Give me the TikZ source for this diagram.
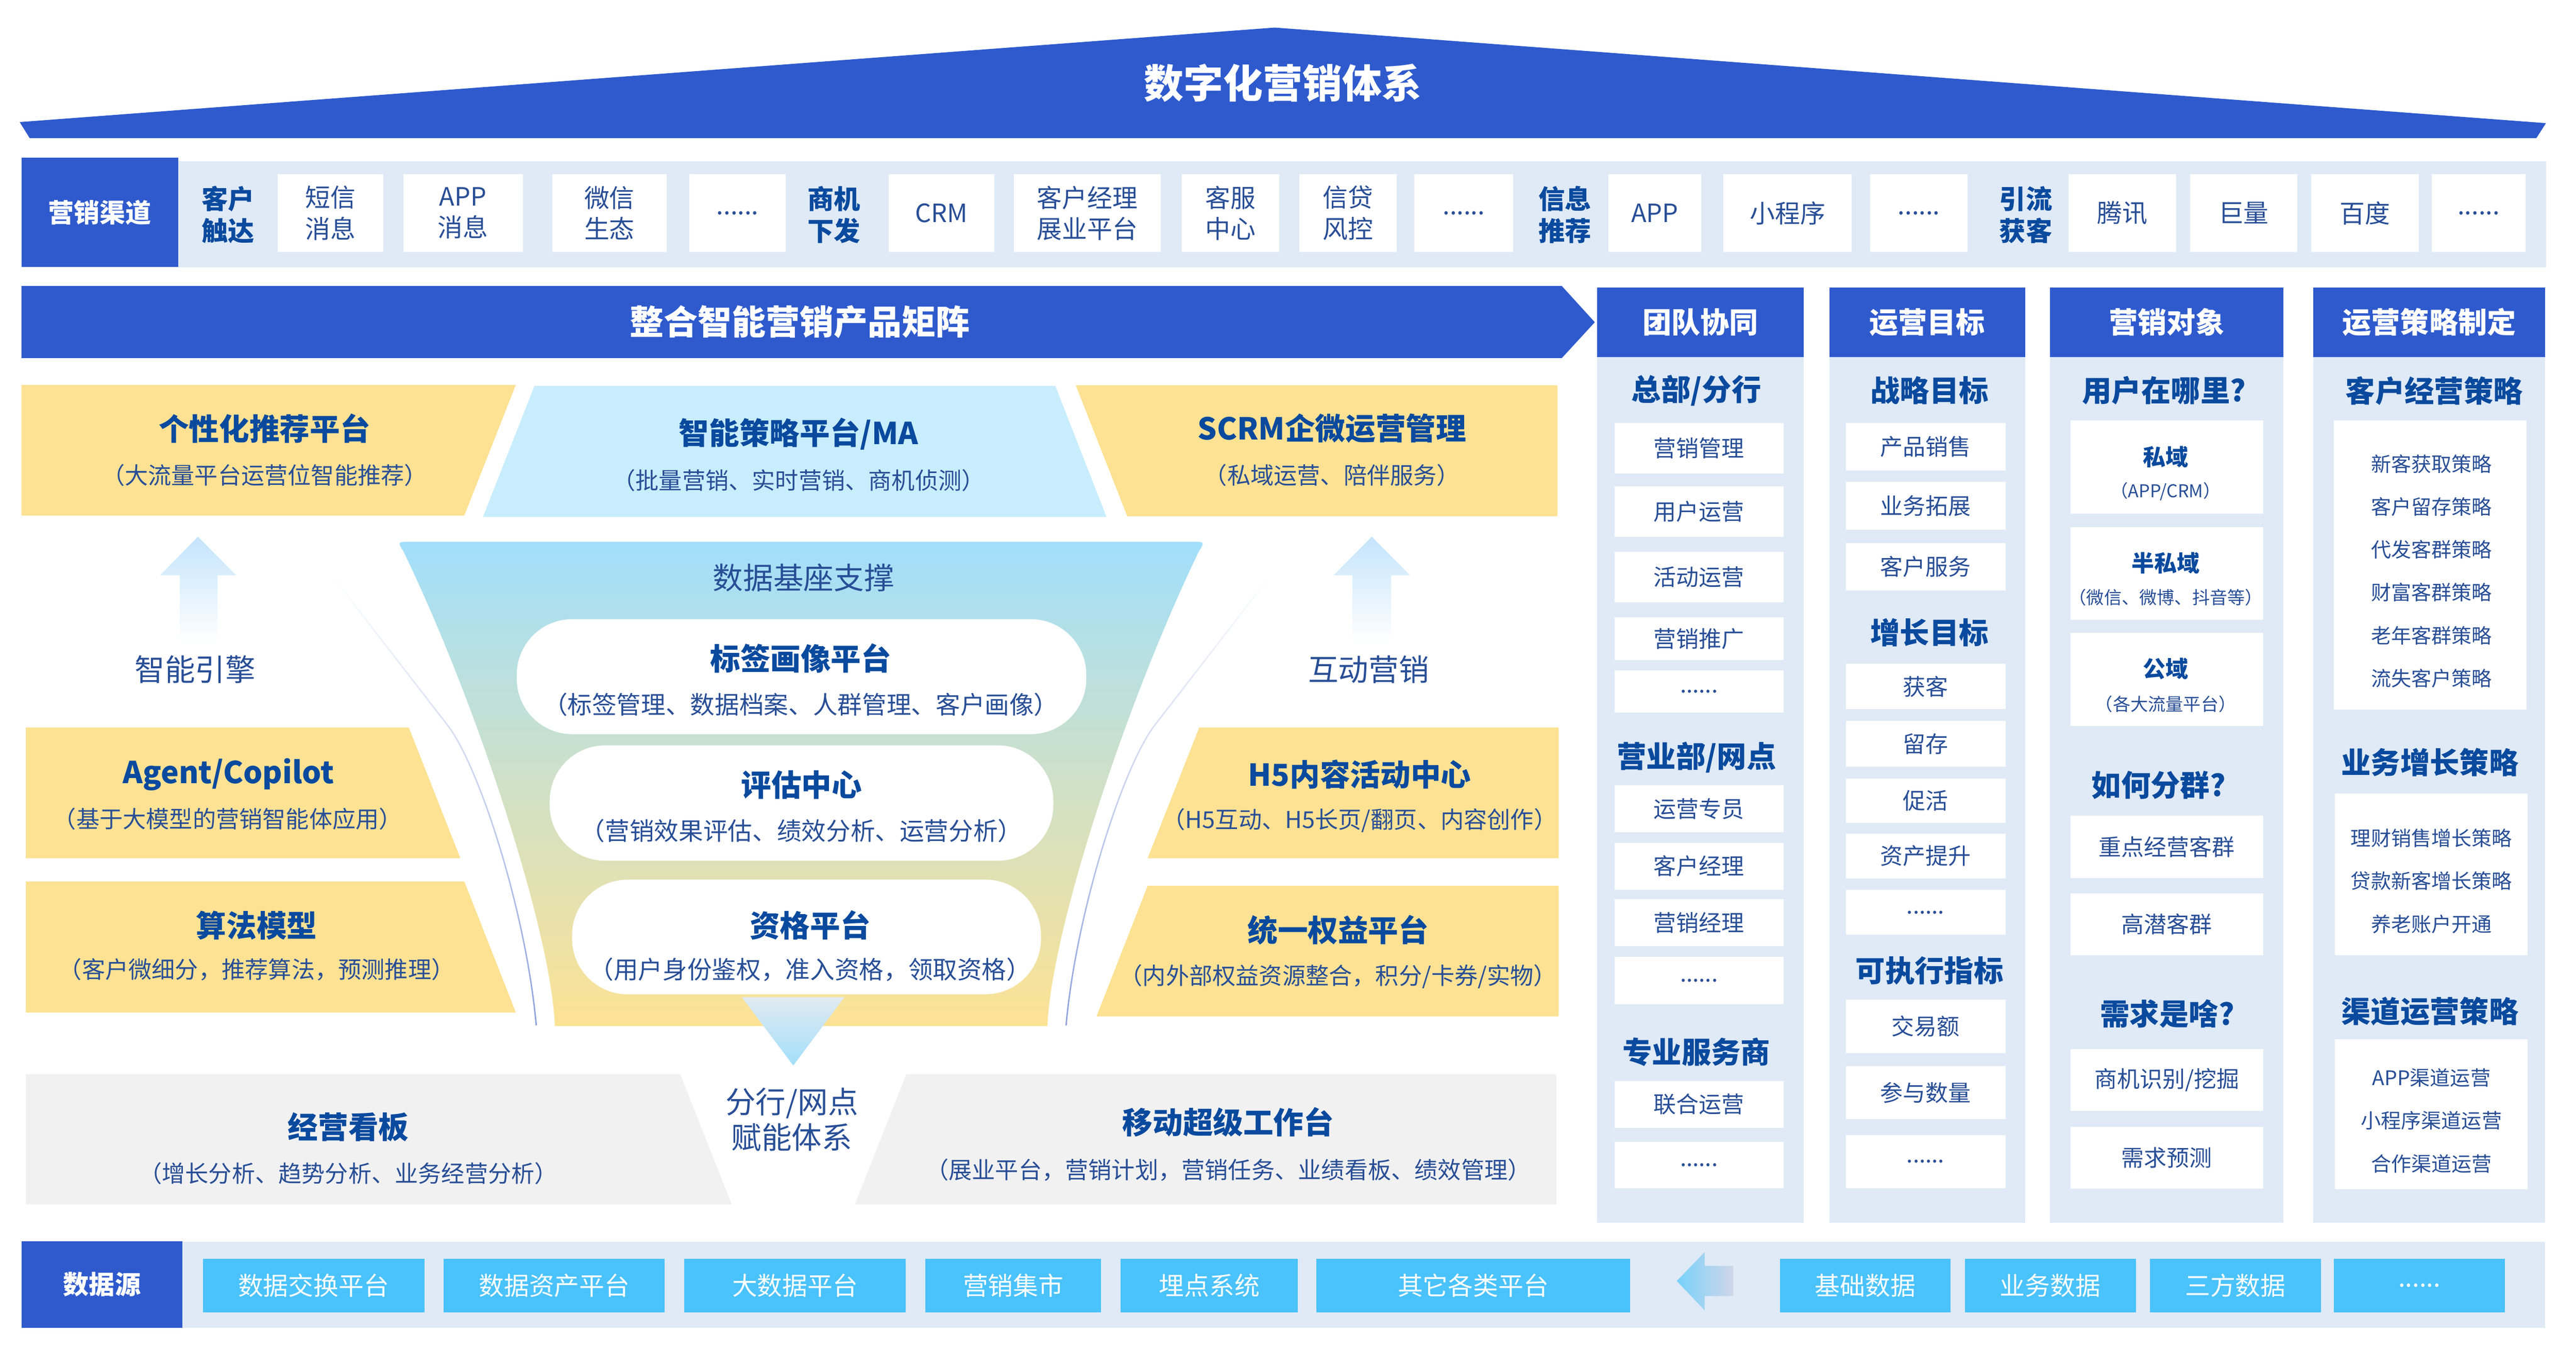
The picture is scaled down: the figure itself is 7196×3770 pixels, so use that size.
\documentclass[tikz,border=0pt]{standalone}
\usepackage{fontspec}
\setmainfont{Noto Sans CJK SC}
\usetikzlibrary{fadings}

\definecolor{mainblue}{RGB}{46,90,205}
\definecolor{bandblue}{RGB}{223,234,246}
\definecolor{hdblue}{RGB}{10,74,158}
\definecolor{txtblue}{RGB}{40,78,150}
\definecolor{boxyellow}{RGB}{253,226,148}
\definecolor{skyblue}{RGB}{200,237,253}
\definecolor{funnelblue}{RGB}{162,223,251}
\definecolor{funnelmid}{RGB}{226,234,240}
\definecolor{boxgray}{RGB}{241,241,241}
\definecolor{srcblue}{RGB}{74,194,251}
\definecolor{curveblue}{RGB}{140,160,220}
\definecolor{arrowblue}{RGB}{196,228,251}
\definecolor{arrowgray}{RGB}{208,214,232}
\newcommand{\moredots}{......}

\begin{document}
\begin{tikzpicture}[x=0.01cm, y=-0.01cm,
  cell/.style={fill=white, text=txtblue, inner sep=0pt, align=center, font=\fontsize{18}{22}\selectfont},
  chcell/.style={cell, minimum height=2.18cm, font=\fontsize{20}{24.7}\selectfont},
  chgroup/.style={text=hdblue, align=center, font=\bfseries\fontsize{21}{25.3}\selectfont},
  colbar/.style={fill=mainblue, text=white, inner sep=0pt, minimum height=1.95cm, font=\bfseries\fontsize{23}{28}\selectfont},
  colhead/.style={text=hdblue, font=\bfseries\fontsize{23.5}{28}\selectfont},
  ptitle/.style={text=hdblue, font=\bfseries\fontsize{24}{29}\selectfont},
  psub/.style={text=txtblue, font=\fontsize{18.5}{22}\selectfont},
  pod/.style={fill=white, rounded corners=1.55cm, inner sep=0pt},
  srccell/.style={fill=srcblue, text=white, inner sep=0pt, minimum height=1.49cm, font=\fontsize{20}{24}\selectfont},
  side/.style={text=txtblue, align=center, font=\fontsize{24}{29}\selectfont},
  guide/.style={curveblue, line width=1.1pt, path fading=north}
]
\useasboundingbox (0,0) rectangle (7196,3770);

% Roof
\fill[mainblue] (55,341) -- (3561,77) -- (7112,344) -- (7085,386) -- (83,386) -- cycle;
\node[text=white, font=\bfseries\fontsize{31.5}{36}\selectfont] (roof) at (3583,232) {数字化营销体系};

% Channels
\fill[bandblue] (60,450) rectangle (7112,747);
\node[fill=mainblue, text=white, minimum width=4.38cm, minimum height=3.04cm, inner sep=0pt,
  font=\bfseries\fontsize{20.5}{24}\selectfont] (chan) at (279,593) {营销渠道};
\foreach \a/\t in {637/{客户\\触达}, 2330/{商机\\下发}, 4372/{信息\\推荐}, 5659/{引流\\获客}}{
  \node[chgroup] (grp-\a) at (\a,600) {\t};
}
\foreach \a/\b/\t in {776/1070/{短信\\消息}, 1127/1460/{APP\\消息}, 1543/1862/{微信\\生态}, 1926/2195/\moredots,
  2482/2778/CRM, 2833/3242/{客户经理\\展业平台}, 3301/3574/{客服\\中心}, 3630/3901/{信贷\\风控},
  3951/4227/\moredots, 4493/4752/APP, 4814/5173/小程序, 5225/5496/\moredots,
  5779/6079/腾讯, 6118/6417/巨量, 6456/6757/百度, 6793/7055/\moredots}{
  \pgfmathsetmacro\w{(\b-\a)/100}
  \node[chcell, minimum width=\w cm] (ch-\a) at ({(\a+\b)/2},595) {\t};
}

% Product matrix banner
\fill[mainblue] (60,799) -- (4363,799) -- (4455,900) -- (4363,1000) -- (60,1000) -- cycle;
\node[text=white, font=\bfseries\fontsize{27}{32}\selectfont] (matrix) at (2234,899) {整合智能营销产品矩阵};

% Top row
\fill[boxyellow] (60,1075) -- (1441,1075) -- (1297,1440) -- (60,1440) -- cycle;
\fill[skyblue] (1493,1078) -- (2948,1078) -- (3091,1444) -- (1349,1444) -- cycle;
\fill[boxyellow] (3005,1076) -- (4351,1076) -- (4351,1442) -- (3149,1442) -- cycle;
\node[ptitle] (rec) at (739,1197) {个性化推荐平台};
\node[psub] (rec-s) at (739,1327) {（大流量平台运营位智能推荐）};
\node[ptitle] (ma) at (2231,1212) {智能策略平台/MA};
\node[psub] (ma-s) at (2231,1342) {（批量营销、实时营销、商机侦测）};
\node[ptitle] (scrm) at (3721,1197) {SCRM企微运营管理};
\node[psub] (scrm-s) at (3721,1327) {（私域运营、陪伴服务）};

% Funnel
\shade[top color=funnelblue, middle color=funnelmid, bottom color=boxyellow]
  (1127,1540) .. controls (1110,1513) .. (1150,1513) -- (3326,1513) .. controls (3366,1513) .. (3349,1540)
  .. controls (3146,1960) and (2936,2600) .. (2926,2866)
  -- (1550,2866) .. controls (1540,2600) and (1330,1960) .. (1127,1540) -- cycle;
\shade[top color=funnelmid, bottom color=funnelblue] (2072,2785) -- (2359,2785) -- (2216,2976) -- cycle;
\node[side] (base) at (2245,1613) {数据基座支撑};
\node[pod, minimum width=15.9cm, minimum height=3.21cm] (tag) at (2239,1890) {};
\node[pod, minimum width=14.06cm, minimum height=3.22cm] (eval) at (2239,2243) {};
\node[pod, minimum width=13.09cm, minimum height=3.2cm] (qual) at (2253,2617) {};
\node[ptitle] (tag-t) at (2237,1838) {标签画像平台};
\node[psub, font=\fontsize{19.5}{23}\selectfont] (tag-s) at (2237,1968) {（标签管理、数据档案、人群管理、客户画像）};
\node[ptitle] (eval-t) at (2239,2192) {评估中心};
\node[psub, font=\fontsize{19.5}{23}\selectfont] (eval-s) at (2239,2321) {（营销效果评估、绩效分析、运营分析）};
\node[ptitle] (qual-t) at (2263,2584) {资格平台};
\node[psub, font=\fontsize{19.5}{23}\selectfont] (qual-s) at (2263,2708) {（用户身份鉴权，准入资格，领取资格）};

% Side curves and arrows
\draw[guide] (922,1601) -- (1250,2025) .. controls (1340,2141) and (1470,2550) .. (1498,2864);
\draw[guide] (3554,1601) -- (3226,2025) .. controls (3136,2141) and (3006,2550) .. (2978,2864);
\shade[top color=arrowblue, bottom color=white] (553,1499) -- (660,1607) -- (608,1607) -- (608,1794)
  -- (502,1794) -- (502,1607) -- (447,1607) -- cycle;
\shade[top color=arrowblue, bottom color=white] (3832,1499) -- (3939,1607) -- (3886,1607) -- (3886,1794)
  -- (3778,1794) -- (3778,1607) -- (3725,1607) -- cycle;
\node[side] (engine) at (545,1870) {智能引擎};
\node[side] (interact) at (3823,1870) {互动营销};

% Side boxes
\fill[boxyellow] (72,2032) -- (1142,2032) -- (1286,2397) -- (72,2397) -- cycle;
\fill[boxyellow] (72,2462) -- (1297,2462) -- (1441,2828) -- (72,2828) -- cycle;
\fill[boxyellow] (3350,2032) -- (4354,2032) -- (4354,2397) -- (3206,2397) -- cycle;
\fill[boxyellow] (3206,2474) -- (4354,2474) -- (4354,2839) -- (3063,2839) -- cycle;
\node[ptitle] (agent) at (638,2163) {Agent/Copilot};
\node[psub] (agent-s) at (636,2287) {（基于大模型的营销智能体应用）};
\node[ptitle] (algo) at (717,2584) {算法模型};
\node[psub] (algo-s) at (717,2708) {（客户微细分，推荐算法，预测推理）};
\node[ptitle] (h5) at (3798,2163) {H5内容活动中心};
\node[psub] (h5-s) at (3798,2292) {（H5互动、H5长页/翻页、内容创作）};
\node[ptitle] (equity) at (3738,2598) {统一权益平台};
\node[psub] (equity-s) at (3738,2727) {（内外部权益资源整合，积分/卡券/实物）};

% Bottom row
\fill[boxgray] (72,3000) -- (1900,3000) -- (2044,3364) -- (72,3364) -- cycle;
\fill[boxgray] (2532,3000) -- (4348,3000) -- (4348,3364) -- (2388,3364) -- cycle;
\node[ptitle] (board) at (973,3148) {经营看板};
\node[psub] (board-s) at (973,3278) {（增长分析、趋势分析、业务经营分析）};
\node[ptitle] (mobile) at (3431,3134) {移动超级工作台};
\node[psub] (mobile-s) at (3431,3268) {（展业平台，营销计划，营销任务、业绩看板、绩效管理）};
\node[side, font=\fontsize{24}{28.5}\selectfont] (branch) at (2212,3127) {分行/网点\\赋能体系};

% Columns
\foreach \a/\b/\t [count=\i] in {4462/5038/团队协同, 5110/5657/运营目标, 5727/6378/营销对象, 6462/7110/运营策略制定}{
  \fill[bandblue] (\a,998) rectangle (\b,3415);
  \pgfmathsetmacro\w{(\b-\a)/100}
  \node[colbar, minimum width=\w cm] (col\i) at ({(\a+\b)/2},900) {\t};
}
\foreach \x/\y/\t in {4739/1091/{总部/分行}, 4739/2115/{营业部/网点}, 4739/2938/专业服务商,
  5390/1091/战略目标, 5390/1767/增长目标, 5390/2711/可执行指标,
  6045/1091/用户在哪里?, 6030/2193/如何分群?, 6054/2831/需求是啥?,
  6800/1091/客户经营策略, 6788/2129/业务增长策略, 6788/2825/渠道运营策略}{
  \node[colhead] (h-\x-\y) at (\x,\y) {\t};
}

% Team column
\foreach \p/\q/\t [count=\i] in {1181/1323/营销管理, 1358/1500/用户运营, 1541/1683/活动运营, 1724/1844/营销推广,
  1872/1991/\moredots, 2194/2324/运营专员, 2354/2485/客户经理, 2511/2643/营销经理, 2673/2805/\moredots,
  3019/3150/联合运营, 3189/3319/\moredots}{
  \pgfmathsetmacro\h{(\q-\p)/100}
  \node[cell, minimum width=4.72cm, minimum height=\h cm] (team\i) at (4746,{(\p+\q)/2}) {\t};
}

% Goal column
\foreach \p/\q/\t [count=\i] in {1181/1314/产品销售, 1346/1479/业务拓展, 1517/1649/客户服务, 1854/1981/获客,
  2014/2141/留存, 2174/2299/促活, 2328/2454/资产提升, 2486/2611/\moredots,
  2792/2942/交易额, 2978/3126/参与数量, 3170/3319/\moredots}{
  \pgfmathsetmacro\h{(\q-\p)/100}
  \node[cell, minimum width=4.46cm, minimum height=\h cm] (goal\i) at (5379,{(\p+\q)/2}) {\t};
}

% Target column
\foreach \p/\q/\t [count=\i] in {1175/1435/{}, 1472/1731/{}, 1768/2028/{}, 2279/2452/重点经营客群, 2495/2668/高潜客群,
  2930/3103/{商机识别/挖掘}, 3147/3320/需求预测}{
  \pgfmathsetmacro\h{(\q-\p)/100}
  \node[cell, minimum width=5.37cm, minimum height=\h cm] (who\i) at (6053,{(\p+\q)/2}) {\t};
}
\node[text=hdblue, font=\bfseries\fontsize{18}{22}\selectfont] (priv) at (6050,1276) {私域};
\node[text=txtblue, font=\fontsize{14}{17}\selectfont] (priv-s) at (6050,1373) {（APP/CRM）};
\node[text=hdblue, font=\bfseries\fontsize{18}{22}\selectfont] (semi) at (6050,1572) {半私域};
\node[text=txtblue, font=\fontsize{14}{17}\selectfont] (semi-s) at (6050,1669) {（微信、微博、抖音等）};
\node[text=hdblue, font=\bfseries\fontsize{18}{22}\selectfont] (pub) at (6050,1868) {公域};
\node[text=txtblue, font=\fontsize{14}{17}\selectfont] (pub-s) at (6050,1966) {（各大流量平台）};

% Strategy column
\node[cell, minimum width=5.38cm, minimum height=8.06cm] (strat1) at (6789,1578) {};
\node[cell, minimum width=5.38cm, minimum height=4.52cm] (strat2) at (6792,2442) {};
\node[cell, minimum width=5.38cm, minimum height=4.19cm] (strat3) at (6792,3112) {};
\foreach \y/\t in {1296/新客获取策略, 1416/客户留存策略, 1535/代发客群策略, 1655/财富客群策略, 1775/老年客群策略, 1895/流失客户策略,
  2341/理财销售增长策略, 2460/贷款新客增长策略, 2582/养老账户开通,
  3010/APP渠道运营, 3130/小程序渠道运营, 3250/合作渠道运营}{
  \node[text=txtblue, font=\fontsize{16}{19}\selectfont] (s-\y) at (6792,\y) {\t};
}

% Data sources
\fill[bandblue] (60,3468) rectangle (7110,3709);
\node[fill=mainblue, text=white, minimum width=4.5cm, minimum height=2.41cm, inner sep=0pt,
  font=\bfseries\fontsize{20.5}{24}\selectfont] (src) at (285,3588) {数据源};
\foreach \a/\b/\t in {567/1185/数据交换平台, 1240/1857/数据资产平台, 1912/2530/大数据平台, 2585/3076/营销集市,
  3131/3625/埋点系统, 3678/4553/其它各类平台, 4973/5448/基础数据, 5489/5966/业务数据, 6006/6483/三方数据, 6520/6997/\moredots}{
  \pgfmathsetmacro\w{(\b-\a)/100}
  \node[srccell, minimum width=\w cm] (src-\a) at ({(\a+\b)/2},3591) {\t};
}
\shade[left color=srcblue!75, right color=arrowgray]
  (4684,3578) -- (4762,3497) -- (4762,3536) -- (4842,3536) -- (4842,3620) -- (4762,3620) -- (4762,3660) -- cycle;
\end{tikzpicture}
\end{document}
